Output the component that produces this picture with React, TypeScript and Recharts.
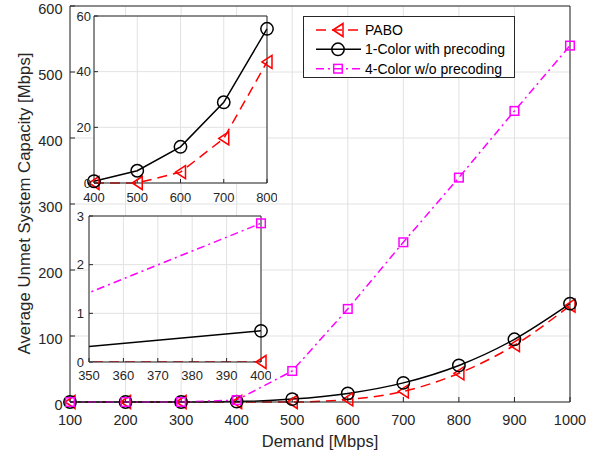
import { CartesianGrid, Legend, Line, LineChart, XAxis, YAxis } from "recharts";

const demand = [100, 200, 300, 400, 500, 600, 700, 800, 900, 1000];
const pabo = [0, 0, 0, 0, 0, 3.9, 16, 43.5, 86, 146];
const oneColor = [0, 0, 0, 0.64, 4.4, 13, 29, 55.4, 95, 149];
const fourColor = [0, 0, 0, 2.85, 47, 141, 242, 340, 441, 540];

const mainXTicks = [100, 200, 300, 400, 500, 600, 700, 800, 900, 1000];
const mainYTicks = [0, 100, 200, 300, 400, 500, 600];
const zoomXTicks = [400, 500, 600, 700, 800];
const zoomYTicks = [0, 20, 40, 60];
const closeXTicks = [350, 360, 370, 380, 390, 400];
const closeYTicks = [0, 1, 2, 3];

const seriesNames = ["PABO", "1-Color with precoding", "4-Color w/o precoding"];

const rows = demand.map((d, i) => ({
  demand: d,
  pabo: pabo[i],
  oneColor: oneColor[i],
  fourColor: fourColor[i],
}));
const zoomRows = rows.filter((r) => r.demand >= 400 && r.demand <= 800);
const closeRows = rows.filter((r) => r.demand >= 350 && r.demand <= 400);

const FONT = "'Liberation Sans', Arial, Helvetica, sans-serif";
const AXIS = "#262626";
const GRID = "#e2e2e2";
const RED = "#ff0000";
const MAGENTA = "#ff00ff";

const DASH = "10 6";
const DASH_DOT = "8 4 2 4";

type DotProps = { cx?: number; cy?: number; index?: number };

function triangle(cx: number, cy: number, key?: number | string) {
  return (
    <polygon
      key={key}
      points={`${cx - 5},${cy} ${cx + 5},${cy - 6.5} ${cx + 5},${cy + 6.5}`}
      fill="none"
      stroke={RED}
      strokeWidth={1.5}
    />
  );
}

function circle(cx: number, cy: number, key?: number | string) {
  return <circle key={key} cx={cx} cy={cy} r={6.2} fill="none" stroke="#000" strokeWidth={1.5} />;
}

function square(cx: number, cy: number, key?: number | string) {
  return (
    <rect key={key} x={cx - 4.3} y={cy - 4.3} width={8.6} height={8.6} fill="none" stroke={MAGENTA} strokeWidth={1.5} />
  );
}

const TriangleDot = ({ cx, cy, index }: DotProps) => (cx == null || cy == null ? null : triangle(cx, cy, index));
const CircleDot = ({ cx, cy, index }: DotProps) => (cx == null || cy == null ? null : circle(cx, cy, index));
const SquareDot = ({ cx, cy, index }: DotProps) => (cx == null || cy == null ? null : square(cx, cy, index));

function LegendBox() {
  const ys = [13, 32.3, 51.7];
  return (
    <div
      style={{
        width: 212,
        height: 62,
        boxSizing: "border-box",
        border: `1px solid ${AXIS}`,
        background: "#fff",
      }}
    >
      <svg width={210} height={60} style={{ display: "block" }}>
        <line x1={12} x2={57} y1={ys[0]} y2={ys[0]} stroke={RED} strokeWidth={1.5} strokeDasharray={DASH} />
        {triangle(34, ys[0])}
        <line x1={12} x2={57} y1={ys[1]} y2={ys[1]} stroke="#000" strokeWidth={1.5} />
        {circle(34, ys[1])}
        <line x1={12} x2={57} y1={ys[2]} y2={ys[2]} stroke={MAGENTA} strokeWidth={1.5} strokeDasharray={DASH_DOT} />
        {square(34, ys[2])}
        {seriesNames.map((name, i) => (
          <text key={name} x={61} y={ys[i]} dy="0.35em" fontFamily={FONT} fontSize={14} fill="#000">
            {name}
          </text>
        ))}
      </svg>
    </div>
  );
}

// rotated y title, centred left of the main axis
const YTitle = () => (
  <text
    transform="translate(24.5,203.5) rotate(-90)"
    textAnchor="middle"
    dominantBaseline="central"
    fontFamily={FONT}
    fontSize={16.8}
    fill={AXIS}
  >
    Average Unmet System Capacity [Mbps]
  </text>
);

const mainTick = { fill: AXIS, fontSize: 14.5, fontFamily: FONT };
const mainYTick = { fill: AXIS, fontSize: 14.5, fontFamily: FONT, dy: 2.5 };
const insetTick = { fill: AXIS, fontSize: 13, fontFamily: FONT };

export default function App() {
  return (
    <div style={{ position: "absolute", left: 0, top: 0, width: 604, height: 457, background: "#fff" }}>
      <LineChart width={604} height={457} data={rows} margin={{ top: 5, right: 33, bottom: 25, left: 30 }}>
        <CartesianGrid stroke={GRID} />
        <XAxis
          dataKey="demand"
          type="number"
          domain={[100, 1000]}
          ticks={mainXTicks}
          interval={0}
          height={30}
          stroke={AXIS}
          tick={mainTick}
          tickSize={-5}
          tickMargin={18}
          label={{ value: "Demand [Mbps]", position: "bottom", offset: 3, fill: AXIS, fontSize: 16.5, fontFamily: FONT }}
        />
        <XAxis
          xAxisId="top"
          orientation="top"
          type="number"
          domain={[100, 1000]}
          ticks={mainXTicks}
          interval={0}
          height={1}
          stroke={AXIS}
          tick={false}
          tickSize={-5}
        />
        <YAxis
          type="number"
          domain={[0, 600]}
          ticks={mainYTicks}
          interval={0}
          width={40}
          stroke={AXIS}
          tick={mainYTick}
          tickSize={-5}
          tickMargin={12.5}
          label={{ content: YTitle }}
        />
        <YAxis
          yAxisId="right"
          orientation="right"
          type="number"
          domain={[0, 600]}
          ticks={mainYTicks}
          interval={0}
          width={1}
          stroke={AXIS}
          tick={false}
          tickSize={-5}
        />
        <Line
          dataKey="pabo"
          stroke={RED}
          strokeWidth={1.5}
          strokeDasharray={DASH}
          dot={TriangleDot}
          type="monotone"
          isAnimationActive={false}
        />
        <Line
          dataKey="oneColor"
          stroke="#000"
          strokeWidth={1.5}
          dot={CircleDot}
          type="monotone"
          isAnimationActive={false}
        />
        <Line
          dataKey="fourColor"
          stroke={MAGENTA}
          strokeWidth={1.5}
          strokeDasharray={DASH_DOT}
          dot={SquareDot}
          type="linear"
          isAnimationActive={false}
        />
        <Legend
          layout="vertical"
          align="center"
          verticalAlign="middle"
          wrapperStyle={{ left: 303, top: 16, width: 212, height: 62 }}
          content={<LegendBox />}
        />
      </LineChart>

      {/* upper inset: 400-800 */}
      <div style={{ position: "absolute", left: 69, top: 6 }}>
        <LineChart width={208} height={203} data={zoomRows} margin={{ top: 9, right: 9, bottom: 0, left: 0 }}>
          <CartesianGrid stroke={GRID} fill="#fff" />
          <XAxis
            dataKey="demand"
            type="number"
            domain={[400, 800]}
            ticks={zoomXTicks}
            interval={0}
            height={26}
            stroke={AXIS}
            tick={insetTick}
            tickSize={-4}
            tickMargin={14}
          />
          <XAxis xAxisId="top" orientation="top" type="number" domain={[400, 800]} ticks={zoomXTicks} interval={0} height={1} stroke={AXIS} tick={false} tickSize={-4} />
          <YAxis
            type="number"
            domain={[0, 60]}
            ticks={zoomYTicks}
            interval={0}
            width={25}
            stroke={AXIS}
            tick={insetTick}
            tickSize={-4}
            tickMargin={7}
          />
          <YAxis yAxisId="right" orientation="right" type="number" domain={[0, 60]} ticks={zoomYTicks} interval={0} width={1} stroke={AXIS} tick={false} tickSize={-4} />
          <Line dataKey="pabo" stroke={RED} strokeWidth={1.5} strokeDasharray={DASH} dot={TriangleDot} type="linear" isAnimationActive={false} />
          <Line dataKey="oneColor" stroke="#000" strokeWidth={1.5} dot={CircleDot} type="linear" isAnimationActive={false} />
        </LineChart>
      </div>

      {/* lower inset: 350-400 */}
      <div style={{ position: "absolute", left: 64, top: 206 }}>
        <LineChart width={207} height={182} data={rows} margin={{ top: 9, right: 9, bottom: 0, left: 0 }}>
          <CartesianGrid stroke={GRID} fill="#fff" />
          <XAxis
            dataKey="demand"
            type="number"
            domain={[350, 400]}
            allowDataOverflow
            ticks={closeXTicks}
            interval={0}
            height={26}
            stroke={AXIS}
            tick={insetTick}
            tickSize={-4}
            tickMargin={13}
          />
          <XAxis xAxisId="top" orientation="top" type="number" domain={[350, 400]} ticks={closeXTicks} interval={0} height={1} stroke={AXIS} tick={false} tickSize={-4} />
          <XAxis xAxisId="pts" dataKey="demand" type="number" domain={[350, 400]} hide />
          <YAxis
            type="number"
            domain={[0, 3]}
            allowDataOverflow
            ticks={closeYTicks}
            interval={0}
            width={25}
            stroke={AXIS}
            tick={insetTick}
            tickSize={-4}
            tickMargin={9}
          />
          <YAxis yAxisId="right" orientation="right" type="number" domain={[0, 3]} ticks={closeYTicks} interval={0} width={1} stroke={AXIS} tick={false} tickSize={-4} />
          <YAxis yAxisId="pts" type="number" domain={[0, 3]} hide />
          <Line dataKey="pabo" stroke={RED} strokeWidth={1.5} strokeDasharray={DASH} dot={false} type="linear" isAnimationActive={false} />
          <Line dataKey="oneColor" stroke="#000" strokeWidth={1.5} dot={false} type="linear" isAnimationActive={false} />
          <Line dataKey="fourColor" stroke={MAGENTA} strokeWidth={1.5} strokeDasharray={DASH_DOT} dot={false} type="linear" isAnimationActive={false} />
          <Line data={closeRows} xAxisId="pts" yAxisId="pts" dataKey="pabo" stroke="none" dot={TriangleDot} isAnimationActive={false} />
          <Line data={closeRows} xAxisId="pts" yAxisId="pts" dataKey="oneColor" stroke="none" dot={CircleDot} isAnimationActive={false} />
          <Line data={closeRows} xAxisId="pts" yAxisId="pts" dataKey="fourColor" stroke="none" dot={SquareDot} isAnimationActive={false} />
        </LineChart>
      </div>
    </div>
  );
}
